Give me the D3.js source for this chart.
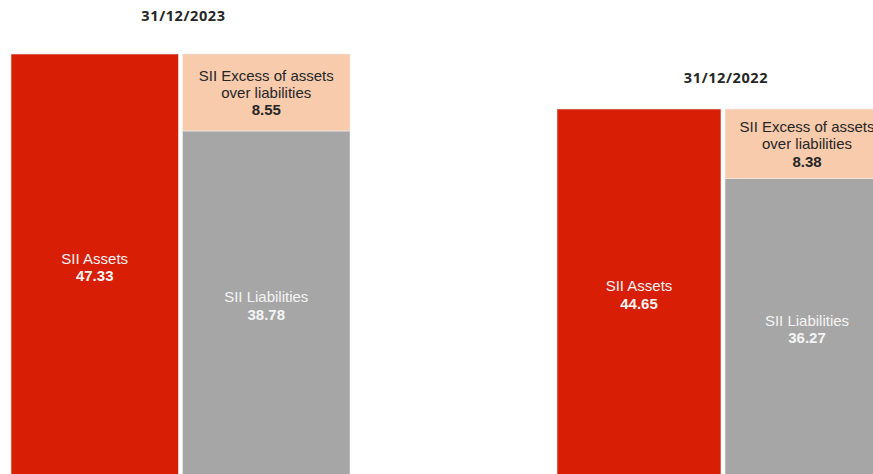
<!DOCTYPE html>
<html>
<head>
<meta charset="utf-8">
<script src="https://cdn.jsdelivr.net/npm/d3@7"></script>
<style>
  html, body { margin: 0; padding: 0; background: #fff; }
  svg { display: block; }
</style>
</head>
<body>
<svg id="chart" width="873" height="474"></svg>
<script>
// Solvency II balance sheet, one panel per reporting date
const dates = ["31/12/2023", "31/12/2022"];
const assets = [47.33, 44.65];
const liabilities = [38.78, 36.27];
const excess = [8.55, 8.38];
const labelAssets = "SII Assets";
const labelLiabilities = "SII Liabilities";
const labelExcess = ["SII Excess of assets", "over liabilities"];
const columns = ["assets", "liabilities"];

const colors = { assets: "#D81E05", liabilities: "#A6A6A6", excess: "#F8CBAD" };

// panel frames (plot area per date)
const panels = [
  { x0: 11, x1: 350, top: 54, bottom: 480, titleY: 16 },
  { x0: 557, x1: 889, top: 109, bottom: 480, titleY: 78 }
];

const svg = d3.select("#chart");
const fmt = d3.format(".2f");
const fontBody = "Liberation Sans, Arial, sans-serif";

panels.forEach((p, i) => {
  const x = d3.scaleBand().domain(columns).range([p.x0, p.x1]).paddingInner(0.024);
  const y = d3.scaleLinear().domain([0, assets[i]]).range([p.bottom, p.top]);
  const g = svg.append("g");

  // stacked segments: liabilities below, excess on top
  const segs = [
    { col: "assets", v0: 0, v1: assets[i], fill: colors.assets },
    { col: "liabilities", v0: 0, v1: liabilities[i], fill: colors.liabilities },
    { col: "liabilities", v0: liabilities[i], v1: liabilities[i] + excess[i], fill: colors.excess }
  ];
  g.selectAll("rect").data(segs).join("rect")
    .attr("x", d => x(d.col))
    .attr("width", x.bandwidth())
    .attr("y", d => y(d.v1))
    .attr("height", d => y(d.v0) - y(d.v1))
    .attr("fill", d => d.fill)
    .attr("stroke", "#ececec")
    .attr("stroke-width", 0.6);

  const cx = c => x(c) + x.bandwidth() / 2;

  // segment labels
  const labels = [
    { x: cx("assets"), yc: (y(0) + y(assets[i])) / 2, lines: [labelAssets], value: assets[i], color: "#F4F4F4" },
    { x: cx("liabilities"), yc: (y(0) + y(liabilities[i])) / 2, lines: [labelLiabilities], value: liabilities[i], color: "#F4F4F4" },
    { x: cx("liabilities"), yc: (y(liabilities[i]) + y(liabilities[i] + excess[i])) / 2, lines: labelExcess, value: excess[i], color: "#262626" }
  ];
  const lh = 17.3;
  labels.forEach(l => {
    const all = l.lines.map(t => ({ t, bold: false })).concat([{ t: fmt(l.value), bold: true }]);
    const start = l.yc - (all.length - 1) * lh / 2;
    g.append("g").selectAll("text").data(all).join("text")
      .attr("x", l.x)
      .attr("y", (d, k) => start + k * lh)
      .attr("dy", "0.36em")
      .attr("text-anchor", "middle")
      .attr("font-family", fontBody)
      .attr("font-size", 15)
      .attr("font-weight", d => d.bold ? "bold" : "normal")
      .attr("fill", l.color)
      .text(d => d.t);
  });

  // date heading
  svg.append("text")
    .attr("x", (p.x0 + p.x1) / 2 + 3)
    .attr("y", p.titleY)
    .attr("dy", "0.36em")
    .attr("text-anchor", "middle")
    .attr("font-family", "Open Sans, sans-serif")
    .attr("font-weight", "bold")
    .attr("font-size", 14.5)
    .attr("letter-spacing", 0.6)
    .attr("fill", "#262626")
    .text(dates[i]);
});
</script>
</body>
</html>
